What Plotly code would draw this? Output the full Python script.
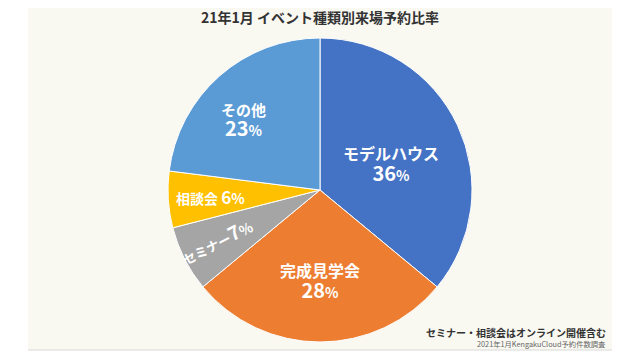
import math
import plotly.graph_objects as go

categories = ["モデルハウス", "完成見学会", "セミナー", "相談会", "その他"]
values = [36, 28, 7, 6, 23]
colors = ["#4472C4", "#ED7D31", "#A5A5A5", "#FFC000", "#5B9BD5"]
title = "21年1月 イベント種類別来場予約比率"
note1 = "セミナー・相談会はオンライン開催含む"
note2 = "2021年1月KengakuCloud予約件数調査"

# page body has an 8px default margin; the figure is sized to fit inside it
OFF = 8
W, H = 640 - 2 * OFF, 360 - 2 * OFF
FONT = "Noto Sans CJK JP"


def px(x):
    return (x - OFF) / W


def py(y):
    return 1 - (y - OFF) / H


cx, cy, R = 320, 190, 152

fig = go.Figure()
fig.add_trace(go.Pie(
    labels=categories, values=values, sort=False, direction="clockwise",
    rotation=0, marker=dict(colors=colors, line=dict(color="white", width=1)),
    textinfo="none", hoverinfo="label+percent", showlegend=False,
    domain=dict(x=[px(cx - R), px(cx + R)], y=[py(cy + R), py(cy - R)]),
))

# label placement: radial fraction, angle tweak (deg), style, label size
place = {
    "モデルハウス": (0.50, 5, "two", 16),
    "完成見学会": (0.60, 0, "two", 16),
    "セミナー": (0.76, 1, "rot", 13),
    "相談会": (0.72, 0, "one", 14),
    "その他": (0.68, -6, "two", 15),
}
total = sum(values)
cum = 0
anns = []
for cat, v in zip(categories, values):
    frac, dang, style, size = place[cat]
    mid = (cum + v / 2) / total * 2 * math.pi + math.radians(dang)
    cum += v
    x = cx + frac * R * math.sin(mid)
    y = cy - frac * R * math.cos(mid)
    pct = f"{v}<span style='font-size:14px'>%</span>"
    ang = 0
    if style == "two":
        txt = f"{cat}<br><span style='font-size:20px'>{pct}</span>"
    elif style == "one":
        txt = f"{cat} <span style='font-size:17px'>{pct}</span>"
    else:
        txt = f"{cat}<span style='font-size:19px'>{pct}</span>"
        ang = -27
    anns.append(dict(x=px(x), y=py(y), xref="paper", yref="paper", text=f"<b>{txt}</b>",
                     xanchor="center", yanchor="middle",
                     showarrow=False, textangle=ang,
                     font=dict(family=FONT, size=size, color="white")))

anns.append(dict(x=px(320), y=py(17), xref="paper", yref="paper", text=f"<b>{title}</b>",
                 xanchor="center", yanchor="middle",
                 showarrow=False, font=dict(family=FONT, size=14, color="#333333")))
anns.append(dict(x=px(608), y=py(332), xref="paper", yref="paper", xanchor="right",
                 yanchor="middle", text=f"<b>{note1}</b>", showarrow=False,
                 font=dict(family=FONT, size=10, color="#333333")))
anns.append(dict(x=px(608), y=py(344), xref="paper", yref="paper", xanchor="right",
                 yanchor="middle", text=note2, showarrow=False,
                 font=dict(family=FONT, size=7.3, color="#666666")))

fig.update_layout(
    width=W, height=H, margin=dict(l=0, r=0, t=0, b=0),
    paper_bgcolor="white", plot_bgcolor="white",
    annotations=anns,
    shapes=[
        dict(type="rect", xref="paper", yref="paper", x0=px(28), x1=px(612),
             y0=py(350), y1=py(7), fillcolor="#F9F8F1", line=dict(width=0), layer="below"),
        dict(type="line", xref="paper", yref="paper", x0=px(28), x1=px(612),
             y0=py(350), y1=py(350), line=dict(color="#D9D9D9", width=1), layer="below"),
    ],
)
fig.write_html("out.html")
